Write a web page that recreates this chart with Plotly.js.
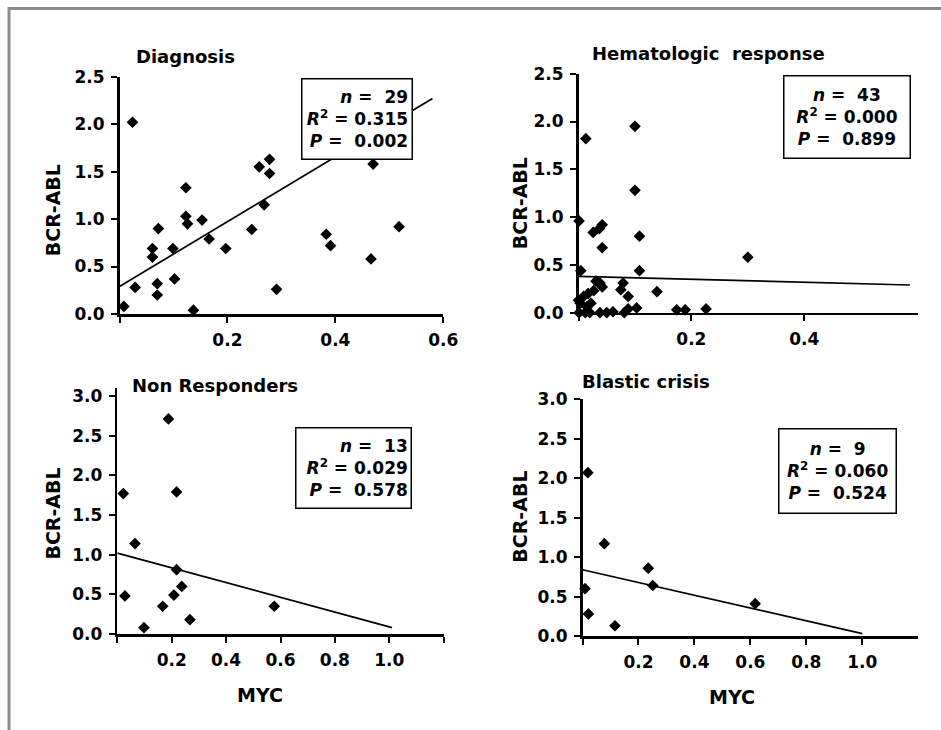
<!DOCTYPE html>
<html>
<head>
<meta charset="utf-8">
<script src="https://cdn.plot.ly/plotly-3.0.1.min.js"></script>
<style>html,body{margin:0;padding:0;background:#fff;}#chart{width:941px;height:730px;}</style>
</head>
<body>
<div id="chart"></div>
<script>
// ---- Panel 1: Diagnosis ----
const diagMYC = [0.008,0.024,0.029,0.061,0.061,0.072,0.070,0.070,0.099,0.102,0.123,0.123,0.126,0.137,0.153,0.166,0.197,0.245,0.259,0.268,0.278,0.278,0.291,0.383,0.391,0.466,0.470,0.518];
const diagBCR = [0.08,2.02,0.28,0.69,0.60,0.90,0.32,0.20,0.69,0.37,1.33,1.03,0.95,0.04,0.99,0.79,0.69,0.89,1.55,1.15,1.63,1.48,0.26,0.84,0.72,0.58,1.58,0.92];
const diagFitX = [0, 0.580];
const diagFitY = [0.29, 2.27];
const diagStats = ["29", "0.315", "0.002"];

// ---- Panel 2: Hematologic response ----
const hemMYC = [0.001,0.026,0.037,0.042,0.042,0.108,0.004,0.108,0.031,0.038,0.042,0.079,0.075,0.088,0.139,0.027,0.017,0.009,0.0,0.003,0.022,0.015,0.001,0.012,0.020,0.038,0.050,0.061,0.081,0.088,0.103,0.174,0.189,0.226,0.013,0.100,0.100,0.300];
const hemBCR = [0.96,0.84,0.88,0.92,0.68,0.80,0.44,0.44,0.33,0.31,0.27,0.31,0.24,0.17,0.22,0.23,0.20,0.17,0.13,0.10,0.10,0.06,0.0,0.0,0.0,0.0,0.0,0.01,0.0,0.04,0.05,0.03,0.03,0.04,1.82,1.95,1.28,0.58];
const hemFitX = [0, 0.587];
const hemFitY = [0.38, 0.29];
const hemStats = ["43", "0.000", "0.899"];

// ---- Panel 3: Non Responders ----
const nonMYC = [0.022,0.028,0.065,0.098,0.167,0.188,0.208,0.218,0.218,0.237,0.267,0.577];
const nonBCR = [1.77,0.48,1.14,0.08,0.35,2.71,0.49,1.79,0.81,0.60,0.18,0.35];
const nonFitX = [0, 1.01];
const nonFitY = [1.02, 0.08];
const nonStats = ["13", "0.029", "0.578"];

// ---- Panel 4: Blastic crisis ----
const blaMYC = [0.009,0.019,0.021,0.078,0.116,0.235,0.251,0.617];
const blaBCR = [0.60,2.07,0.28,1.17,0.13,0.86,0.64,0.41];
const blaFitX = [0, 1.0];
const blaFitY = [0.84, 0.03];
const blaStats = ["9", "0.060", "0.524"];

const panelTitles = ["Diagnosis", "Hematologic\u00a0\u00a0response", "Non Responders", "Blastic crisis"];
const yTitle = "BCR-ABL";
const xTitle = "MYC";
const yTicks25 = [0, 0.5, 1, 1.5, 2, 2.5];
const yTicks30 = [0, 0.5, 1, 1.5, 2, 2.5, 3];
const xTicks06 = [0.2, 0.4, 0.6];
const xTicks04 = [0.2, 0.4];
const xTicks10 = [0.2, 0.4, 0.6, 0.8, 1.0];

const FONT = "DejaVu Sans, Liberation Sans, Arial, sans-serif";
const W = 941, H = 730;
const px = v => v / W;
const py = v => 1 - v / H;

const marker = {symbol: 'diamond', size: 9, color: '#000'};
const fitLine = {color: '#000', width: 1.7};

function pts(x, y, ax, ay) {
  return {x: x, y: y, xaxis: ax, yaxis: ay, type: 'scatter', mode: 'markers', marker: marker, cliponaxis: false, showlegend: false, hoverinfo: 'skip'};
}
function fit(x, y, ax, ay) {
  return {x: x, y: y, xaxis: ax, yaxis: ay, type: 'scatter', mode: 'lines', line: fitLine, showlegend: false, hoverinfo: 'skip'};
}

const data = [
  fit(diagFitX, diagFitY, 'x', 'y'), pts(diagMYC, diagBCR, 'x', 'y'),
  fit(hemFitX, hemFitY, 'x2', 'y2'), pts(hemMYC, hemBCR, 'x2', 'y2'),
  fit(nonFitX, nonFitY, 'x3', 'y3'), pts(nonMYC, nonBCR, 'x3', 'y3'),
  fit(blaFitX, blaFitY, 'x4', 'y4'), pts(blaMYC, blaBCR, 'x4', 'y4')
];

const tickFont = {family: FONT, size: 17, color: '#000', weight: 'bold'};
function xax(domain, range, ticks, anchor, minorVals) {
  return {domain: domain, range: range, anchor: anchor, showline: true, linewidth: 2.5, linecolor: '#000',
    showgrid: false, zeroline: false, ticks: 'outside', ticklen: 6, tickwidth: 2, tickcolor: '#000',
    tickvals: ticks, ticktext: ticks.map(v => '<b>' + v.toFixed(1) + '</b>'),
    minor: {tickvals: minorVals, ticks: 'outside', ticklen: 6, tickwidth: 2, tickcolor: '#000', showgrid: false},
    tickfont: tickFont, ticklabelstandoff: 3, fixedrange: true};
}
function yax(domain, range, ticks, anchor) {
  return {domain: domain, range: range, anchor: anchor, showline: true, linewidth: 2.5, linecolor: '#000',
    showgrid: false, zeroline: false, ticks: 'outside', ticklen: 6, tickwidth: 2, tickcolor: '#000',
    tickvals: ticks, ticktext: ticks.map(v => '<b>' + v.toFixed(1) + '</b>'),
    tickfont: tickFont, ticklabelstandoff: 3, fixedrange: true};
}

function txt(text, x, y, size, angle) {
  return {text: '<b>' + text + '</b>', xref: 'paper', yref: 'paper', x: px(x), y: py(y), xanchor: 'center', yanchor: 'middle',
    showarrow: false, textangle: angle || 0, font: {family: FONT, size: size, color: '#000', weight: 'bold'}};
}
function statBox(stats, left, top, w, h, align) {
  const s = '\u00a0';
  const text = '<b><i>n</i> =' + s + s + stats[0] + '<br><i>R</i><sup>2</sup> = ' + stats[1] + '<br><i>P</i> =' + s + s + stats[2] + '</b>';
  return {text: text, xref: 'paper', yref: 'paper', x: px(left), y: py(top), xanchor: 'left', yanchor: 'top',
    showarrow: false, align: align, width: w, height: h, bgcolor: '#fff', bordercolor: '#000', borderwidth: 1.5, borderpad: 3,
    font: {family: FONT, size: 17, color: '#000', weight: 'bold'}};
}

const layout = {
  width: W, height: H, margin: {l: 0, r: 0, t: 0, b: 0},
  paper_bgcolor: '#fff', plot_bgcolor: 'rgba(0,0,0,0)', showlegend: false,
  font: {family: FONT, color: '#000', weight: 'bold'},
  xaxis: xax([px(119.5), px(443.3)], [0, 0.6], xTicks06, 'y', [0]),
  yaxis: yax([py(314), py(76.7)], [0, 2.5], yTicks25, 'x'),
  xaxis2: xax([px(578.5), px(918.3)], [0, 0.602], xTicks04, 'y2', [0]),
  yaxis2: yax([py(312.7), py(73.7)], [0, 2.5], yTicks25, 'x2'),
  xaxis3: xax([px(117.3), px(443.7)], [0, 1.2], xTicks10, 'y3', [0, 1.2]),
  yaxis3: yax([py(634), py(388)], [0, 3.1], yTicks30, 'x3'),
  xaxis4: xax([px(582.5), px(918.3)], [0, 1.2], xTicks10, 'y4', [0]),
  yaxis4: yax([py(636), py(399.3)], [0, 3.0], yTicks30, 'x4'),
  annotations: [
    txt(panelTitles[0], 185, 57, 18),
    txt(panelTitles[1], 708, 53.3, 18),
    txt(panelTitles[2], 215, 385, 18),
    txt(panelTitles[3], 646, 381.7, 18),
    txt(yTitle, 53.3, 210, 19, -90),
    txt(yTitle, 520, 203.3, 19, -90),
    txt(yTitle, 53.3, 513.3, 19, -90),
    txt(yTitle, 520, 516.7, 19, -90),
    txt(xTitle, 260, 695, 19),
    txt(xTitle, 731.7, 696.7, 19),
    statBox(diagStats, 300.7, 78.3, 102.6, 72.7, 'right'),
    statBox(hemStats, 782.7, 75, 119, 75.3, 'center'),
    statBox(nonStats, 295, 426.7, 108.3, 72.6, 'right'),
    statBox(blaStats, 778.3, 427.7, 110.4, 77.3, 'center')
  ],
  shapes: [
    {type: 'line', xref: 'paper', yref: 'paper', x0: px(9), x1: 1, y0: py(8.5), y1: py(8.5), line: {color: '#8c8c8c', width: 3}},
    {type: 'line', xref: 'paper', yref: 'paper', x0: px(9), x1: px(9), y0: py(7), y1: 0, line: {color: '#8c8c8c', width: 3}}
  ]
};

Plotly.newPlot('chart', data, layout, {staticPlot: true, displayModeBar: false});
</script>
</body>
</html>
